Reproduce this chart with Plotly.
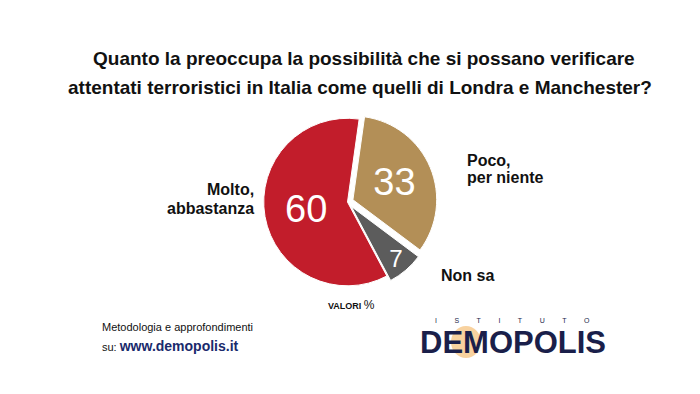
import plotly.graph_objects as go

categories = ["Poco, per niente", "Non sa", "Molto, abbastanza"]
values = [33, 7, 60]
colors = ["#B38F57", "#5C5C5C", "#C21D2B"]

fig = go.Figure()
fig.add_trace(go.Pie(
    labels=categories, values=values, sort=False, direction="clockwise",
    rotation=8, pull=[0.07, 0.07, 0.0],
    marker=dict(colors=colors, line=dict(color="white", width=1)),
    textinfo="value", textposition="inside", insidetextorientation="horizontal",
    textfont=dict(family="Liberation Sans", size=38, color="white"),
    domain=dict(x=[0.35, 0.62], y=[0.28, 0.735]),
    showlegend=False, hoverinfo="label+value",
))

def ann(x, y, text, font, xanchor="center", align="center"):
    fig.add_annotation(x=x/700, y=1 - y/394, xref="paper", yref="paper", showarrow=False,
                       text=text, font=font, xanchor=xanchor, yanchor="middle", align=align)

title_font = dict(family="Liberation Sans", size=19, color="#111111")
ann(356, 50, "<b>Quanto la preoccupa la possibilità che si possano verificare</b>", title_font)
ann(352, 79, "<b>attentati terroristici in Italia come quelli di Londra e Manchester?</b>", title_font)

lab_font = dict(family="Liberation Sans", size=16, color="#111111")
ann(248, 182, "<b>Molto,</b>", lab_font, "right")
ann(248, 200, "<b>abbastanza</b>", lab_font, "right")
ann(457, 152, "<b>Poco,</b>", lab_font, "left")
ann(457, 169, "<b>per niente</b>", lab_font, "left")
ann(431, 267, "<b>Non sa</b>", lab_font, "left")

ann(343, 297, "<b>VALORI</b> <span style='font-size:12px'>%</span>",
    dict(family="Liberation Sans", size=9, color="#111111"))

ann(92, 319, "Metodologia e approfondimenti",
    dict(family="Liberation Sans", size=11, color="#111111"), "left")
ann(92, 338, "su: <span style='font-size:14px;color:#1a2a6c'><b>www.demopolis.it</b></span>",
    dict(family="Liberation Sans", size=11, color="#111111"), "left")

# logo
fig.add_shape(type="circle", xref="paper", yref="paper",
              x0=443/700, x1=473/700, y0=1 - 350/394, y1=1 - 318/394,
              fillcolor="#F2A640", opacity=0.5, line=dict(width=0), layer="below")
sp = "&nbsp;" * 9
ann(504, 312, sp.join(list("ISTITUTO")), dict(family="Liberation Sans", size=7, color="#1a1f4a"))
ann(505, 334, "<b>DEMOPOLIS</b>", dict(family="Liberation Sans", size=31, color="#1a1f4a"))

fig.update_layout(width=700, height=394, margin=dict(l=0, r=0, t=0, b=0),
                  paper_bgcolor="white", plot_bgcolor="white")
fig.write_html("out.html")
